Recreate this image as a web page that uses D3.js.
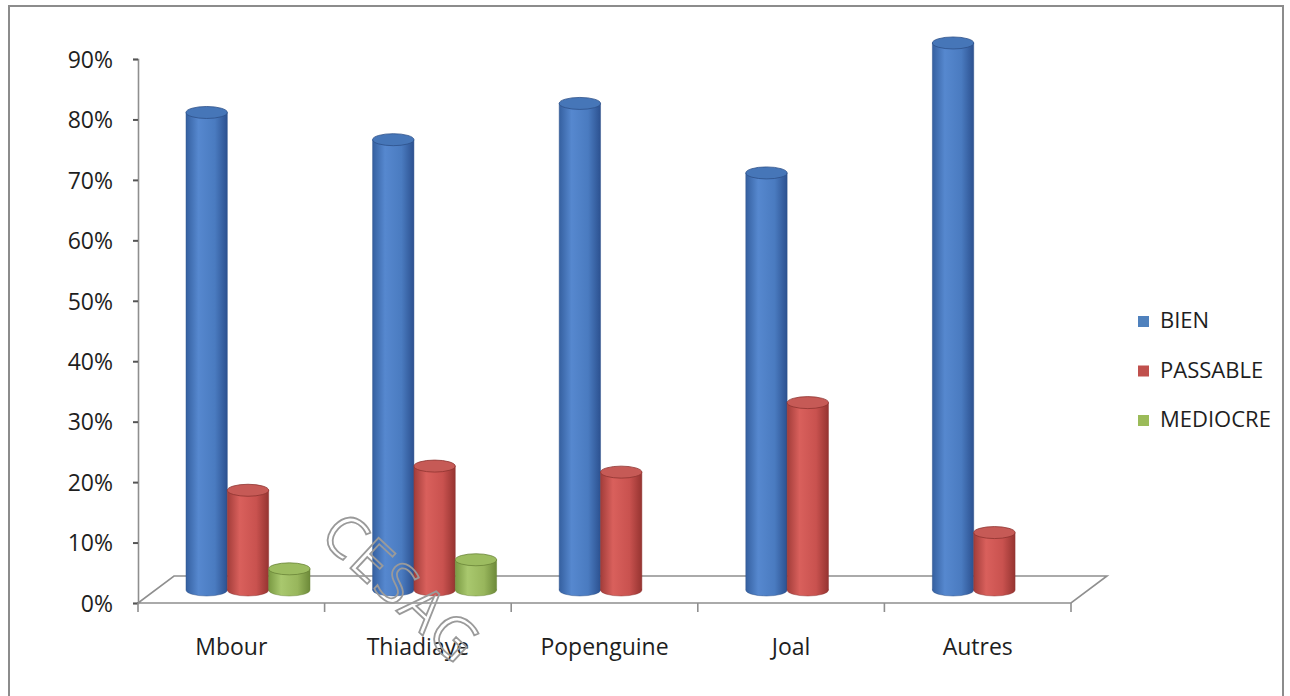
<!DOCTYPE html>
<html>
<head>
<meta charset="utf-8">
<script src="https://cdn.jsdelivr.net/npm/d3@7"></script>
<style>
  html, body { margin: 0; padding: 0; background: #fff; }
  svg { display: block; }
  text { font-family: "Open Sans", "Liberation Sans", sans-serif; }
</style>
</head>
<body>
<svg id="chart" width="1290" height="696"></svg>
<script>
// ---- data ----
const categories = ["Mbour", "Thiadiaye", "Popenguine", "Joal", "Autres"];
const seriesNames = ["BIEN", "PASSABLE", "MEDIOCRE"];
const bien      = [79, 74.5, 80.5, 69, 90.5];
const passable  = [16.5, 20.5, 19.5, 31, 9.5];
const mediocre  = [3.5, 5, 0, 0, 0];
const yTicks = [0, 10, 20, 30, 40, 50, 60, 70, 80, 90];
const seriesColors = ["#4F81BD", "#C0504D", "#9BBB59"];

const values = [bien, passable, mediocre];

const svg = d3.select("#chart");

// border
svg.append("rect")
  .attr("x", 9).attr("y", 6).attr("width", 1274).attr("height", 720)
  .attr("fill", "#fff").attr("stroke", "#8c8c8c").attr("stroke-width", 2);

// scales
const x = d3.scaleBand().domain(categories).range([138, 1071]).paddingInner(0).paddingOuter(0);
const depth = { dx: 36, dy: -27 };
const y = d3.scaleLinear().domain([0, 90]).range([603, 59]);
const pxPerUnit = (y(0) - y(90)) / 90;
const barBase = 590;
const yBar = d3.scaleLinear().domain([0, 100]).range([barBase, barBase - 100 * pxPerUnit]);
const sub = d3.scaleBand().domain(seriesNames).range([48, 172]).paddingInner(0);

// gradients
const defs = svg.append("defs");
const grads = [
  ["#3560a0", "#5688cf", "#4a7bc0", "#2c5190"],
  ["#a23d3a", "#d9605c", "#c9524f", "#963431"],
  ["#7a9a43", "#a9c86e", "#98b65c", "#6d8a39"]
];
grads.forEach((g, i) => {
  const lg = defs.append("linearGradient").attr("id", "g" + i)
    .attr("x1", "0%").attr("x2", "100%").attr("y1", "0%").attr("y2", "0%");
  lg.append("stop").attr("offset", "0%").attr("stop-color", g[0]);
  lg.append("stop").attr("offset", "30%").attr("stop-color", g[1]);
  lg.append("stop").attr("offset", "70%").attr("stop-color", g[2]);
  lg.append("stop").attr("offset", "100%").attr("stop-color", g[3]);
});
const topColors = ["#4676b8", "#c65a56", "#9cbc60"];
const edgeColors = ["#2d5089", "#8e3330", "#6a8437"];

// floor
const x0 = x.range()[0], x1 = x.range()[1], yF = y(0);
const floorPts = [[x0, yF], [x1, yF], [x1 + depth.dx, yF + depth.dy], [x0 + depth.dx, yF + depth.dy]];
svg.append("polygon")
  .attr("points", floorPts.map(p => p.join(",")).join(" "))
  .attr("fill", "#fff").attr("stroke", "#8f8f8f").attr("stroke-width", 1.6);

// y axis
const yAxis = d3.axisLeft(y).tickValues(yTicks).tickFormat(d => d + "%").tickSize(5).tickPadding(20);
const gy = svg.append("g").attr("transform", `translate(${x0},0)`).call(yAxis);
gy.select(".domain").attr("stroke", "#8f8f8f").attr("stroke-width", 1.6);
gy.selectAll(".tick line").attr("stroke", "#555").attr("stroke-width", 2);
gy.selectAll(".tick text").attr("font-size", 23).attr("fill", "#1e1e1e")
  .attr("font-family", "'Open Sans', sans-serif").attr("dy", "0.36em");

// x axis (ticks at category boundaries)
const xAxis = d3.axisBottom(x).tickSize(0).tickPadding(36);
const gx = svg.append("g").attr("transform", `translate(0,${yF})`).call(xAxis);
gx.select(".domain").remove();
gx.selectAll(".tick text").attr("font-size", 23).attr("fill", "#1e1e1e")
  .attr("font-family", "'Open Sans', sans-serif");
const bounds = categories.map(c => x(c)).concat([x1]);
svg.selectAll(".xtick").data(bounds).enter().append("line")
  .attr("x1", d => d).attr("x2", d => d)
  .attr("y1", yF).attr("y2", yF + 9)
  .attr("stroke", "#8f8f8f").attr("stroke-width", 1.6);

// cylinders
const ry = 6;
const bars = [];
categories.forEach((c, ci) => {
  seriesNames.forEach((s, si) => {
    const v = values[si][ci];
    if (v > 0) bars.push({ c, s, si, v });
  });
});
const gb = svg.append("g");
bars.forEach(b => {
  const bx = x(b.c) + sub(b.s);
  const w = sub.bandwidth();
  const cx = bx + w / 2;
  const top = yBar(b.v);
  const g = gb.append("g");
  g.append("ellipse").attr("cx", cx).attr("cy", barBase).attr("rx", w / 2).attr("ry", ry)
    .attr("fill", `url(#g${b.si})`);
  g.append("rect").attr("x", bx).attr("y", top).attr("width", w).attr("height", barBase - top)
    .attr("fill", `url(#g${b.si})`);
  g.append("path")
    .attr("d", `M${bx},${top} L${bx},${barBase} A${w/2},${ry} 0 0 0 ${bx + w},${barBase} L${bx + w},${top}`)
    .attr("fill", "none").attr("stroke", edgeColors[b.si]).attr("stroke-width", 0.8).attr("opacity", 0.6);
  g.append("ellipse").attr("cx", cx).attr("cy", top).attr("rx", w / 2).attr("ry", ry)
    .attr("fill", topColors[b.si]).attr("stroke", edgeColors[b.si]).attr("stroke-width", 0.8);
});

// legend
const lg = svg.append("g");
seriesNames.forEach((s, i) => {
  const ly = 328 + i * 49.5;
  lg.append("rect").attr("x", 1138).attr("y", ly - 12).attr("width", 11).attr("height", 11)
    .attr("fill", seriesColors[i]);
  lg.append("text").attr("x", 1160).attr("y", ly).attr("font-size", 22).attr("fill", "#1e1e1e")
    .text(s);
});

// watermark
svg.append("text")
  .attr("transform", "translate(318,538) rotate(43)")
  .attr("font-size", 58).attr("letter-spacing", 2)
  .attr("font-family", "'DejaVu Sans', sans-serif")
  .attr("fill", "none").attr("stroke", "#9a9a9a").attr("stroke-width", 1.8)
  .text("CESAG");
</script>
</body>
</html>
